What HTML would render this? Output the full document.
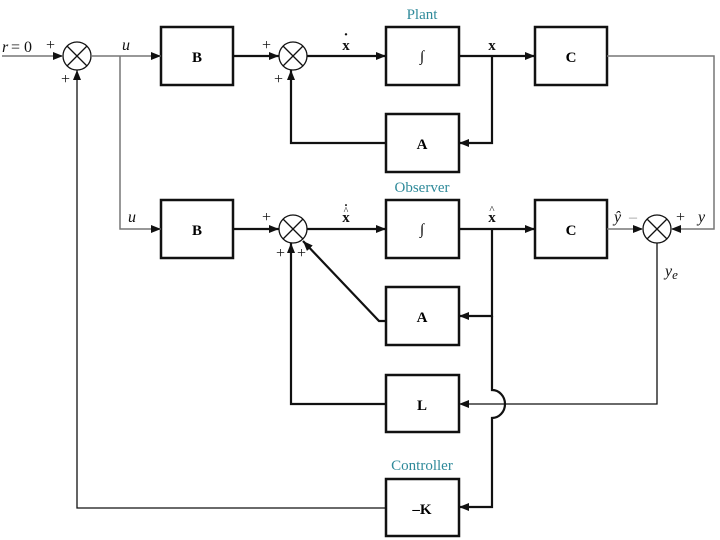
<!DOCTYPE html>
<html><head><style>
body{margin:0;background:#fff;}
svg{display:block;font-family:"Liberation Serif",serif;}
.b{font-weight:bold;font-size:15px;text-anchor:middle;}
.t{fill:#2f8a9a;font-size:15px;text-anchor:middle;}
</style></head><body>
<svg width="720" height="540" viewBox="0 0 720 540">
<defs>
<marker id="a" viewBox="0 0 10 8" refX="10" refY="4" markerWidth="10" markerHeight="8" markerUnits="userSpaceOnUse" orient="auto"><path d="M0,0L10,4L0,8z" fill="#111"/></marker>
</defs>
<g fill="none" stroke="#111" stroke-width="2.5">
<rect x="161" y="27" width="72" height="58"/>
<rect x="386" y="27" width="73" height="58"/>
<rect x="535" y="27" width="72" height="58"/>
<rect x="386" y="114" width="73" height="58"/>
<rect x="161" y="200" width="72" height="58"/>
<rect x="386" y="200" width="73" height="58"/>
<rect x="535" y="200" width="72" height="58"/>
<rect x="386" y="287" width="73" height="58"/>
<rect x="386" y="375" width="73" height="57"/>
<rect x="386" y="479" width="73" height="57"/>
</g>
<g fill="none" stroke="#111" stroke-width="1.3">
<circle cx="77" cy="56" r="14"/><path d="M67,46L87,66M87,46L67,66"/>
<circle cx="293" cy="56" r="14"/><path d="M283,46L303,66M303,46L283,66"/>
<circle cx="293" cy="229" r="14"/><path d="M283,219L303,239M303,219L283,239"/>
<circle cx="657" cy="229" r="14"/><path d="M647,219L667,239M667,219L647,239"/>
</g>
<g fill="none" stroke="#777" stroke-width="1.5">
<path d="M2,56H63" marker-end="url(#a)"/>
<path d="M91,56H161" marker-end="url(#a)"/>
<path d="M120,56V229H161" marker-end="url(#a)"/>
<path d="M607,56H714V229H671" marker-end="url(#a)"/>
<path d="M607,229H643" marker-end="url(#a)"/>
</g>
<g fill="none" stroke="#111" stroke-width="2.2">
<path d="M233,56H279" marker-end="url(#a)"/>
<path d="M307,56H386" marker-end="url(#a)"/>
<path d="M459,56H535" marker-end="url(#a)"/>
<path d="M492,56V143H459" marker-end="url(#a)"/>
<path d="M386,143H291V70" marker-end="url(#a)"/>
<path d="M233,229H279" marker-end="url(#a)"/>
<path d="M307,229H386" marker-end="url(#a)"/>
<path d="M459,229H535" marker-end="url(#a)"/>
<path d="M492,229V316H459" marker-end="url(#a)"/>
<path d="M386,321H379L303,241" marker-end="url(#a)"/>
<path d="M386,404H291V243" marker-end="url(#a)"/>
<path d="M492,316V390A13,14 0 0 1 492,418V507H459" marker-end="url(#a)"/>
</g>
<g fill="none" stroke="#111" stroke-width="1.3">
<path d="M657,243V404H459" marker-end="url(#a)"/>
<path d="M386,508H77V70" marker-end="url(#a)"/>
</g>
<g font-size="16" fill="#111">
<text x="2" y="52" font-style="italic">r</text><text x="11" y="52">= 0</text>
<text x="46" y="50">+</text><text x="61" y="84">+</text>
<text x="122" y="50" font-style="italic">u</text>
<text x="128" y="222" font-style="italic">u</text>
<text x="262" y="50">+</text><text x="274" y="84">+</text>
<text x="262" y="222">+</text><text x="276" y="258">+</text><text x="297" y="258">+</text>
<text x="346" y="50" class="b" style="font-size:15px">x</text>
<text x="346" y="39" class="b">·</text>
<text x="346" y="222" class="b" style="font-size:15px">x</text>
<text x="346" y="209" class="b" style="font-size:12px">·</text>
<text x="346" y="214" text-anchor="middle" font-size="10">^</text>
<text x="492" y="50" class="b" style="font-size:15px">x</text>
<text x="492" y="222" class="b" style="font-size:15px">x</text>
<text x="492" y="213" text-anchor="middle" font-size="11">^</text>
<text x="614" y="222" font-style="italic">ŷ</text><text x="629" y="222" fill="#999">–</text>
<text x="676" y="222">+</text><text x="698" y="222" font-style="italic">y</text>
<text x="665" y="276" font-style="italic">y<tspan font-size="13" dy="3">e</tspan></text>
</g>
<text class="b" x="197" y="62">B</text>
<text class="b" x="197" y="235">B</text>
<text x="422" y="61" text-anchor="middle" font-style="italic" font-size="15">∫</text>
<text x="422" y="234" text-anchor="middle" font-style="italic" font-size="15">∫</text>
<text class="b" x="571" y="62">C</text>
<text class="b" x="571" y="235">C</text>
<text class="b" x="422" y="149">A</text>
<text class="b" x="422" y="322">A</text>
<text class="b" x="422" y="410">L</text>
<text class="b" x="422" y="514">–K</text>
<text class="t" x="422" y="19">Plant</text>
<text class="t" x="422" y="192">Observer</text>
<text class="t" x="422" y="470">Controller</text>
</svg>
</body></html>
